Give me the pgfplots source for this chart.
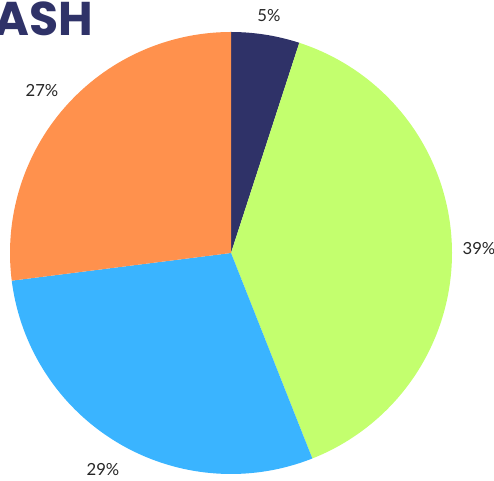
\documentclass[border=0pt]{standalone}
\usepackage{pgfplots}
\pgfplotsset{compat=1.18}
\usepackage{fontspec}
\setmainfont{Lato}
\newfontfamily\titlefont{Poppins}[UprightFont=* Bold]
\definecolor{cnavy}{HTML}{2F3268}
\definecolor{cgreen}{HTML}{C3FF6E}
\definecolor{cblue}{HTML}{3AB4FF}
\definecolor{corange}{HTML}{FF914D}
% slice values (percent): 5, 39, 29, 27 ; clockwise from 12 o'clock
\def\cx{231}\def\cy{228}\def\rr{221}
\begin{document}
\begin{tikzpicture}
\begin{axis}[
  scale only axis, width=370.5pt, height=360.75pt,
  xmin=0, xmax=494, ymin=0, ymax=481,
  axis lines=none, clip=true,
]
% 5%: 90 -> 72
\addplot[fill=cnavy, draw=none, domain=72:90, samples=30]
  ({\cx+\rr*cos(x)},{\cy+\rr*sin(x)}) -- (\cx,\cy) -- cycle;
% 39%: 72 -> -68.4
\addplot[fill=cgreen, draw=none, domain=-68.4:72, samples=120]
  ({\cx+\rr*cos(x)},{\cy+\rr*sin(x)}) -- (\cx,\cy) -- cycle;
% 29%: -68.4 -> -172.8
\addplot[fill=cblue, draw=none, domain=-172.8:-68.4, samples=100]
  ({\cx+\rr*cos(x)},{\cy+\rr*sin(x)}) -- (\cx,\cy) -- cycle;
% 27%: -172.8 -> -270
\addplot[fill=corange, draw=none, domain=-270:-172.8, samples=100]
  ({\cx+\rr*cos(x)},{\cy+\rr*sin(x)}) -- (\cx,\cy) -- cycle;
\node[anchor=base east, inner sep=0pt, text=cnavy, font=\titlefont\fontsize{35.5}{40}\selectfont] at (93,445) {DASH};
\node[font=\fontsize{12.5}{14}\selectfont, text=black!85] at (269,465) {5\%};
\node[font=\fontsize{12.5}{14}\selectfont, text=black!85] at (479,232) {39\%};
\node[font=\fontsize{12.5}{14}\selectfont, text=black!85] at (103,11) {29\%};
\node[font=\fontsize{12.5}{14}\selectfont, text=black!85] at (42,390) {27\%};
\end{axis}
\pgfresetboundingbox
\useasboundingbox (current axis.south west) rectangle (current axis.north east);
\end{tikzpicture}
\end{document}
